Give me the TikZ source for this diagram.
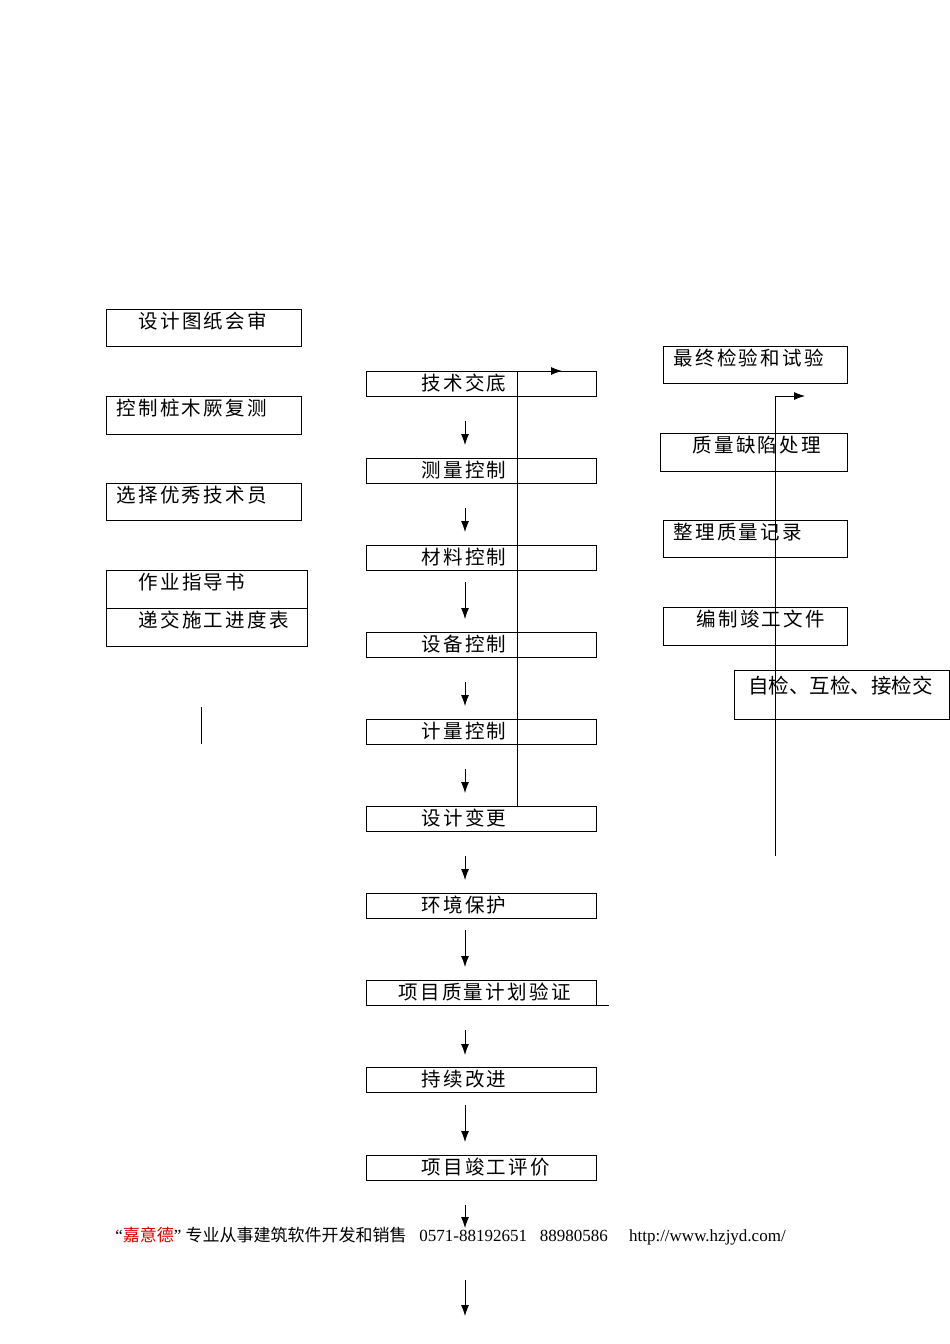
\documentclass[tikz,border=0pt]{standalone}
\usepackage{fontspec}
\setmainfont{Liberation Serif}
\newfontfamily\cjk[LetterSpace=12]{Noto Sans CJK SC}
\newfontfamily\cjkf{Noto Sans CJK SC}
\usetikzlibrary{arrows.meta}
\begin{document}
\begin{tikzpicture}[x=1pt,y=-1pt,line width=0.7pt,
  bx/.style={draw,line width=0.6pt},
  lb/.style={anchor=west,font=\cjk\fontsize{19.5}{19.5}\selectfont,inner sep=0pt},
  ar/.style={-{Latex[length=11pt,width=8pt]},line width=0.8pt}]
\useasboundingbox (0,0) rectangle (950,1344);
% center boxes
\foreach \n/\y/\t/\xo in {c1/371/技术交底/421,c2/458/测量控制/421,c3/545/材料控制/421,c4/632/设备控制/421,c5/719/计量控制/421,c6/806/设计变更/421,c7/893/环境保护/421,c8/980/项目质量计划验证/398,c9/1067/持续改进/421,c10/1155/项目竣工评价/421}{
  \draw[bx] (366,\y) rectangle (596,\y+25);
  \node[lb] (\n) at (\xo,\y+12) {\t};
}
\foreach \a/\b in {421/445,508/532,582/619,682/706,769/793,856/880,930/967,1030/1055,1105/1142,1205/1228,1280/1316}{
  \coordinate (s) at (465,\a); \coordinate (e) at (465,\b);
  \draw[ar] (s) -- (e);
}
% left boxes
\draw[bx] (106,309) rectangle (301,346); \node[lb] (l1) at (138,321) {设计图纸会审};
\draw[bx] (106,396) rectangle (301,434); \node[lb] (l2) at (116,408) {控制桩木厥复测};
\draw[bx] (106,483) rectangle (301,520); \node[lb] (l3) at (116,495) {选择优秀技术员};
\draw[bx] (106,570) rectangle (307,608); \node[lb] (l4) at (138,582) {作业指导书};
\draw[bx] (106,608) rectangle (307,646); \node[lb] (l5) at (138,620) {递交施工进度表};
\coordinate (v1) at (201,707); \coordinate (v2) at (201,744); \draw (v1)--(v2);
% right boxes
\draw[bx] (663,346) rectangle (847,383); \node[lb] (r1) at (673,358) {最终检验和试验};
\draw[bx] (660,433) rectangle (847,471); \node[lb] (r2) at (692,445) {质量缺陷处理};
\draw[bx] (663,520) rectangle (847,557); \node[lb] (r3) at (673,532) {整理质量记录};
\draw[bx] (663,607) rectangle (847,645); \node[lb] (r4) at (696,619) {编制竣工文件};
\draw[bx] (734,670) rectangle (949,719); \node[lb,font=\cjkf\fontsize{20.5}{20.5}\selectfont] (r5) at (748,686) {自检、互检、接检交};
% connectors
\coordinate (p1) at (517,806); \coordinate (p2) at (517,371); \coordinate (p3) at (562,371);
\draw[ar] (p1)--(p2)--(p3);
\coordinate (q1) at (775,856); \coordinate (q2) at (775,396); \coordinate (q3) at (805,396);
\draw[ar] (q1)--(q2)--(q3);
\coordinate (t1) at (596,1005); \coordinate (t2) at (609,1005); \draw (t1)--(t2);
% footer
\node[anchor=west,inner sep=0pt,font=\fontsize{17}{17}\selectfont] (ft) at (115,1236)
 {“{\cjkf\color{red!85!black}嘉意德}”\ {\cjkf 专业从事建筑软件开发和销售}\ \ \ 0571-88192651\ \ \ 88980586\ \ \ \ \ http://www.hzjyd.com/};
\end{tikzpicture}
\end{document}
